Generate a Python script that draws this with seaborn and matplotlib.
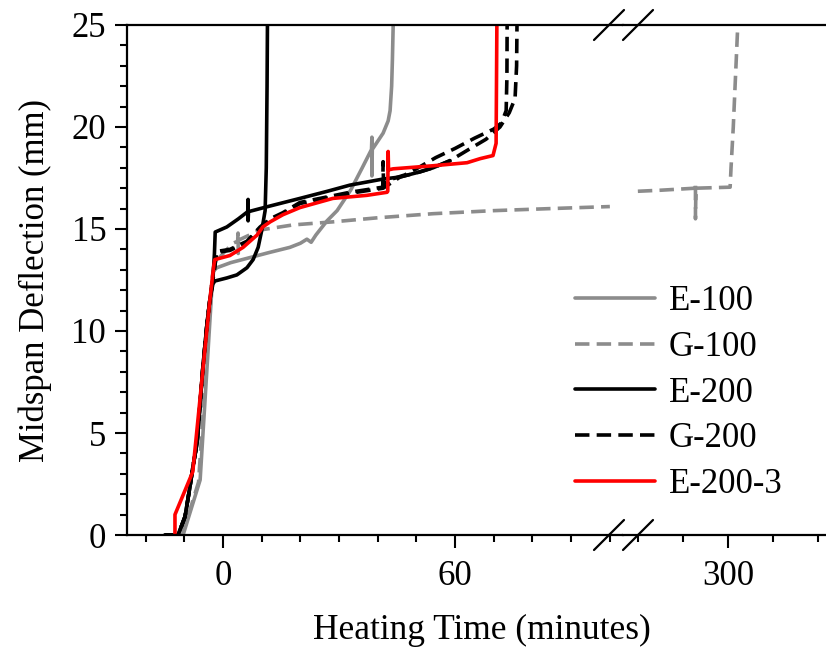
import numpy as np
import pandas as pd
import matplotlib
matplotlib.use("Agg")
import matplotlib.pyplot as plt
from matplotlib.ticker import MultipleLocator, FixedLocator
from matplotlib.lines import Line2D
import seaborn as sns

sns.set_theme(style="ticks")
plt.rcParams['font.family'] = ['Liberation Serif', 'DejaVu Serif']
plt.rcParams.update({"text.color": "black", "axes.labelcolor": "black",
                     "xtick.color": "black", "ytick.color": "black",
                     "axes.edgecolor": "black"})

series_order = ["E-100", "G-100", "E-200", "G-200", "E-200-3"]
colors = {"E-100": "#8c8c8c", "G-100": "#8c8c8c", "E-200": "#000000",
          "G-200": "#000000", "E-200-3": "#ff0000"}
dash_styles = {"E-100": "", "G-100": (4, 2), "E-200": "", "G-200": (4, 2), "E-200-3": ""}

# ---- data (time in minutes, deflection in mm) ----
e100_t = [-10.3, -5.9, -2.6, -1.6, 2.0, 7.0, 12.0, 17.3, 20.0, 21.7, 22.8, 24.0, 26.9,
          29.5, 33.0, 36.0, 38.4, 38.5, 38.5, 38.6, 40.0, 41.4, 42.7, 43.2, 43.6, 43.8, 44.0]
e100_d = [0.0, 2.7, 12.9, 13.1, 13.35, 13.6, 13.85, 14.1, 14.3, 14.5, 14.35, 14.7, 15.4,
          15.9, 16.9, 18.0, 18.9, 19.5, 17.6, 18.9, 19.3, 19.7, 20.3, 20.8, 22.0, 23.3, 25.0]

g100_t = [-10.5, -6.3, -3.0, -2.3, 0.5, 2.6, 3.8, 3.9, 3.95, 4.0, 9.6, 18.1, 28.4,
          40.0, 54.3, 70.0, 84.6, 100.0]
g100_d = [0.0, 2.6, 12.3, 13.3, 13.9, 14.3, 14.4, 14.8, 13.8, 14.45, 14.95, 15.2, 15.35,
          15.55, 15.75, 15.9, 16.0, 16.1]
g100_late_t = [280.0, 285.0, 292.7, 292.8, 292.8, 292.9, 300.5, 300.7, 301.2, 301.7, 302.2]
g100_late_d = [16.85, 16.9, 17.0, 17.25, 15.5, 17.0, 17.05, 18.0, 20.0, 22.5, 25.0]

e200a_t = [-15.0, -11.6, -9.8, -8.5, -7.8, -6.7, -5.2, -4.1, -3.4, -2.6, -2.1, 1.0, 3.6,
           6.2, 7.8, 9.1, 10.1, 10.9, 11.2, 11.4, 11.5]
e200a_d = [0.0, 0.0, 0.9, 2.4, 3.3, 4.5, 8.2, 10.4, 11.5, 12.3, 12.45, 12.6, 12.75,
           13.1, 13.5, 14.1, 15.0, 15.9, 18.0, 22.0, 25.0]

e200b_t = [-15.0, -11.6, -9.8, -8.5, -7.8, -6.7, -5.2, -4.1, -3.4, -2.6, -2.2, -2.0, 1.0,
           4.0, 6.4, 6.5, 6.5, 6.6, 11.6, 19.9, 27.0, 32.8, 41.4, 45.8, 50.9, 54.3, 58.7]
e200b_d = [0.0, 0.0, 0.9, 2.4, 3.3, 4.5, 8.2, 10.4, 11.5, 12.5, 13.8, 14.85, 15.1,
           15.5, 15.85, 16.45, 15.4, 15.85, 16.1, 16.5, 16.85, 17.15, 17.45, 17.55, 17.8, 18.0, 18.35]

g200a_t = [-15.0, -11.6, -9.8, -8.5, -7.8, -6.7, -5.2, -4.1, -3.4, -2.6, -1.6, 1.8, 6.2,
           9.6, 12.2, 15.5, 19.9, 32.8, 41.3, 41.4, 41.5, 43.7, 47.0, 50.0, 55.0, 60.0,
           65.0, 70.0, 72.0, 73.2, 73.4, 73.45]
g200a_d = [0.0, 0.0, 0.9, 2.4, 3.3, 4.5, 8.2, 10.4, 11.5, 12.5, 13.9, 14.0, 14.4,
           15.1, 15.5, 15.8, 16.3, 16.8, 17.05, 18.3, 17.2, 17.45, 17.65, 17.95, 18.5, 18.95,
           19.45, 19.9, 20.2, 20.8, 22.5, 25.0]

g200b_t = [-15.0, -11.6, -9.8, -8.5, -7.8, -6.7, -5.2, -4.1, -3.4, -2.6, -1.6, 1.8, 6.2,
           9.6, 12.2, 15.5, 19.9, 32.8, 41.4, 45.8, 50.9, 54.3, 58.7, 63.1, 68.0, 71.6,
           74.0, 75.5, 75.9, 76.0]
g200b_d = [0.0, 0.0, 0.9, 2.4, 3.3, 4.5, 8.2, 10.4, 11.5, 12.5, 13.85, 13.95, 14.35,
           15.05, 15.45, 15.75, 16.25, 16.75, 17.0, 17.55, 17.8, 18.0, 18.35, 18.85, 19.4, 20.0,
           20.7, 21.4, 23.0, 25.0]

e2003_t = [-12.4, -12.4, -7.8, -3.4, -2.3, -2.1, 1.8, 5.2, 8.8, 10.3, 12.2, 15.5, 19.9,
           28.4, 37.2, 42.4, 42.6, 42.7, 42.8, 44.0, 54.3, 63.1, 66.5, 69.8, 70.6, 70.8]
e2003_d = [0.0, 1.0, 3.1, 11.5, 13.3, 13.5, 13.7, 14.1, 14.7, 15.1, 15.35, 15.7, 16.05,
           16.5, 16.65, 16.8, 16.85, 18.8, 17.9, 17.95, 18.1, 18.25, 18.45, 18.6, 19.2, 25.0]

specimens = [
    ("E-100", "E-100 a", e100_t, e100_d),
    ("G-100", "G-100 a", g100_t, g100_d),
    ("G-100", "G-100 a late", g100_late_t, g100_late_d),
    ("E-200", "E-200 a", e200a_t, e200a_d),
    ("E-200", "E-200 b", e200b_t, e200b_d),
    ("G-200", "G-200 a", g200a_t, g200a_d),
    ("G-200", "G-200 b", g200b_t, g200b_d),
    ("E-200-3", "E-200-3 a", e2003_t, e2003_d),
]
frames = []
for series, spec, t, d in specimens:
    frames.append(pd.DataFrame({"time": t, "defl": d, "series": series,
                                "specimen": spec}))
df = pd.concat(frames, ignore_index=True)

LW = 2.6
W, H = 826, 659
fig = plt.figure(figsize=(W / 100, H / 100), dpi=100)
x0, xb, y0, y1 = 127, 623, 535, 25
axL = fig.add_axes([x0 / W, 1 - y0 / H, (xb - x0) / W, (y0 - y1) / H])
axR = fig.add_axes([xb / W, 1 - y0 / H, (W - xb) / W, (y0 - y1) / H])

for ax in (axL, axR):
    sns.lineplot(data=df, x="time", y="defl", hue="series", style="series",
                 units="specimen", estimator=None, sort=False,
                 hue_order=series_order, style_order=series_order,
                 palette=colors, dashes=dash_styles, linewidth=LW,
                 legend=(ax is axL), ax=ax)
    ax.set_ylim(0, 25)
    ax.set_xlabel("")
    ax.set_ylabel("")
    for s in ax.spines.values():
        s.set_linewidth(1.6)
        s.set_color("black")
    ax.spines["right"].set_visible(False)

axL.set_xlim(-24.8, 103.4)
axR.set_xlim(276.7, 321.8)
axR.spines["left"].set_visible(False)

axL.xaxis.set_major_locator(MultipleLocator(60))
axL.xaxis.set_minor_locator(MultipleLocator(10))
axL.yaxis.set_major_locator(MultipleLocator(5))
axL.yaxis.set_minor_locator(MultipleLocator(1))
axR.xaxis.set_major_locator(FixedLocator([300]))
axR.xaxis.set_minor_locator(MultipleLocator(10))

for ax in (axL, axR):
    ax.tick_params(which="both", direction="out", width=1.5, colors="black",
                   labelcolor="black", labelsize=25, top=False, right=False)
    ax.tick_params(which="major", length=9)
    ax.tick_params(which="minor", length=5)
    ax.tick_params(axis="x", pad=9)
    ax.tick_params(axis="y", pad=6)
axR.tick_params(axis="y", which="both", left=False, labelleft=False)

axL.set_ylabel("Midspan Deflection (mm)", fontsize=25, color="black")
axL.yaxis.set_label_coords((52 - x0) / (xb - x0), 0.5)
axL.set_xlabel("Heating Time (minutes)", fontsize=25.5, color="black")
axL.xaxis.set_label_coords((482 - x0) / (xb - x0), -0.155)

# legend
leg = axL.get_legend()
handles = list(leg.legend_handles)
labels = [t.get_text() for t in leg.get_texts()]
leg.remove()
for h in handles:
    h.set_linewidth(LW)
lg = fig.legend(handles, labels, loc="center left", bbox_to_anchor=(575 / W, 1 - 393 / H),
                frameon=False, fontsize=25, handlelength=2.3, handletextpad=0.4,
                labelspacing=0.37, borderpad=0, borderaxespad=0)
for t in lg.get_texts():
    t.set_color("black")

# axis break marks
for cx in (609, 638):
    for cy in (25, 535):
        fig.add_artist(Line2D([(cx - 15) / W, (cx + 15) / W],
                              [1 - (cy + 15) / H, 1 - (cy - 15) / H],
                              transform=fig.transFigure, color="black", lw=1.6,
                              clip_on=False, zorder=10))

fig.savefig("out.png", dpi=100)
